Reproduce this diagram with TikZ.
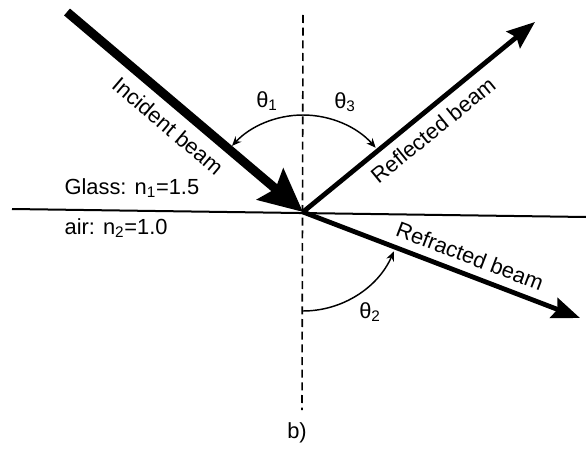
\documentclass[tikz,border=0pt]{standalone}
\usepackage{fontspec}
\setmainfont{Liberation Sans}
\usetikzlibrary{arrows.meta,positioning}

\begin{document}
\begin{tikzpicture}[
  x=0.75pt,
  y=0.75pt,
  incbeam/.style={line width=6.8pt, -{Stealth[length=32pt,width=30pt,inset=5pt]}},
  beam/.style={line width=3.6pt, -{Stealth[length=21pt,width=16pt,inset=3pt]}},
  normal/.style={line width=1.2pt, dash pattern=on 6pt off 3.5pt},
  iface/.style={line width=1.5pt},
  angarc/.style={line width=1.1pt, -{Stealth[length=7pt,width=6pt]}},
  every node/.style={font=\fontsize{16.4}{18}\selectfont, inner sep=1pt}
]
\useasboundingbox (0,0) rectangle (586,451);
% points
\coordinate (O) at (303,239);
\coordinate (inc) at (67,439);
\coordinate (refl) at (535,429);
\coordinate (refr) at (580,133);
\coordinate (ifl) at (12,242);
\coordinate (ifr) at (586,234);
\coordinate (nt) at (303,436);
\coordinate (nb) at (302,41);

% interface and normal
\draw[iface] (ifl) -- (ifr);
\draw[normal] (nt) -- (nb);

% beams
\draw[incbeam] (inc) -- (O);
\draw[beam] (O) -- (refl);
\draw[beam] (O) -- (refr);

% angles
\draw[angarc] ([shift={(90:97)}]O) arc[start angle=90, end angle=137, radius=97];
\draw[angarc] ([shift={(90:97)}]O) arc[start angle=90, end angle=41.5, radius=97];
\draw[angarc] ([shift={(270:99)}]O) arc[start angle=270, end angle=336.5, radius=99];
\node (t1) at (267,350) {θ\textsubscript{1}};
\node (t3) at (345,349) {θ\textsubscript{3}};
\node (t2) at (370,139) {θ\textsubscript{2}};

% labels
\node[rotate=-40.5] (lin) at (168,325) {Incident beam};
\node[rotate=39.3] (lrl) at (433,321) {Reflected beam};
\node[rotate=-20.9] (lrr) at (470,195) {Refracted beam};
\node[anchor=west] (glass) at (63,263) {Glass: n\textsubscript{1}=1.5};
\node[anchor=west] (air) at (63,223) {air: n\textsubscript{2}=1.0};
\node (cap) at (297,18) {b)};
\end{tikzpicture}
\end{document}
